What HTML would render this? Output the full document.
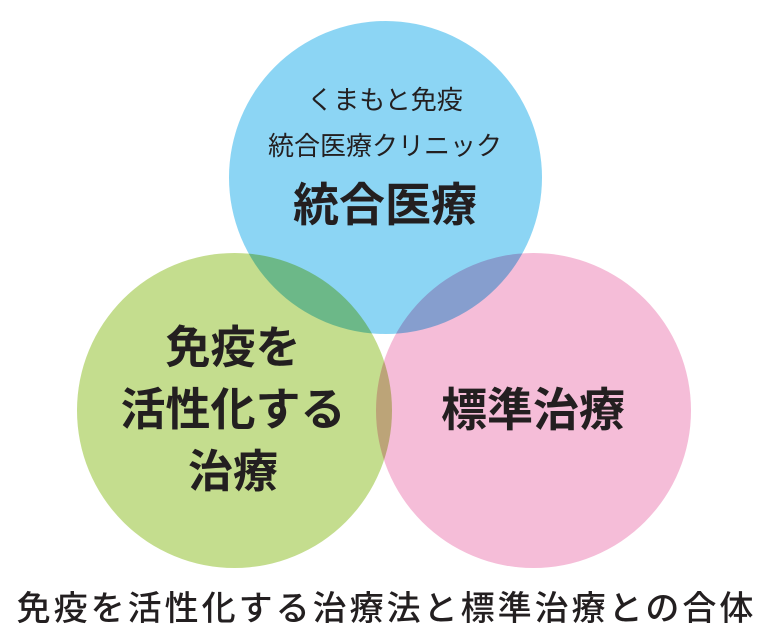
<!DOCTYPE html>
<html><head><meta charset="utf-8"><style>
body{margin:0;width:770px;height:643px;background:#fff;position:relative;overflow:hidden;font-family:"Liberation Sans","Noto Sans CJK JP",sans-serif;color:#231f20}
.c{position:absolute;border-radius:50%;mix-blend-mode:multiply}
.t{position:absolute;text-align:center;white-space:nowrap}
</style></head><body>
<div class="c" style="left:229px;top:21px;width:313px;height:313px;background:#8cd5f4"></div>
<div class="c" style="left:77px;top:253px;width:315px;height:315px;background:#c4dd8e"></div>
<div class="c" style="left:376px;top:253px;width:315px;height:315px;background:#f5bdd8"></div>
<div class="t" style="left:235px;width:300px;top:84px;font-size:26px;line-height:32px">くまもと免疫</div>
<div class="t" style="left:235px;width:300px;top:130px;font-size:26px;line-height:32px">統合医療クリニック</div>
<div class="t" style="left:235px;width:300px;top:178px;font-size:46px;font-weight:bold;line-height:54px">統合医療</div>
<div class="t" style="left:83px;width:300px;top:317px;font-size:45px;font-weight:bold;line-height:62px">免疫を<br>活性化する<br>治療</div>
<div class="t" style="left:383px;width:300px;top:383px;font-size:46px;font-weight:bold;line-height:54px">標準治療</div>
<div class="t" style="left:0;width:773px;top:588px;font-size:34px;line-height:42px;letter-spacing:3px;font-weight:500">免疫を活性化する治療法と標準治療との合体</div>
</body></html>
